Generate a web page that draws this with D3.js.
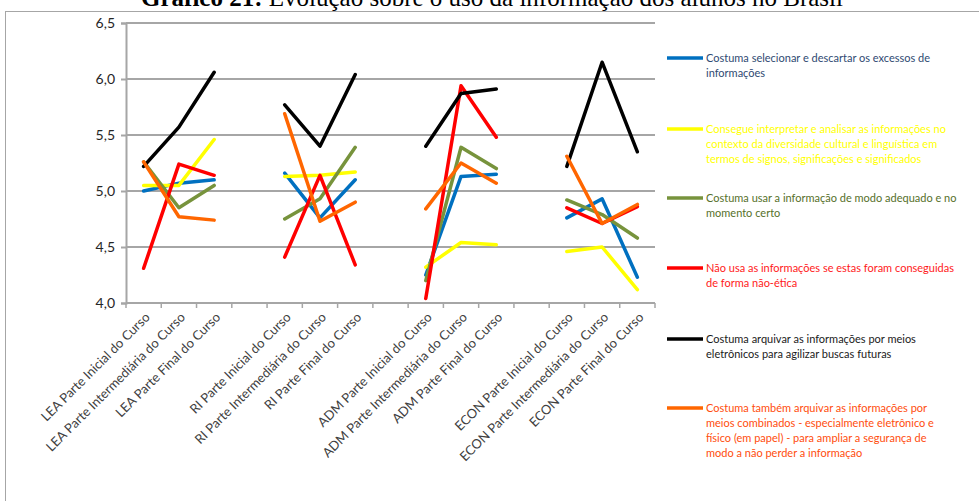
<!DOCTYPE html>
<html>
<head>
<meta charset="utf-8">
<script src="https://cdn.jsdelivr.net/npm/d3@7"></script>
<style>
  html, body { margin: 0; padding: 0; background: #fff; }
  svg { display: block; }
</style>
</head>
<body>
<svg id="chart" width="979" height="501"></svg>
<script>
// Category axis: four courses, three stages each, with an empty slot between courses
const categories = [
  "LEA Parte Inicial do Curso", "LEA Parte Intermediária do Curso", "LEA Parte Final do Curso", "",
  "RI Parte Inicial do Curso", "RI Parte Intermediária do Curso", "RI Parte Final do Curso", "",
  "ADM Parte Inicial do Curso", "ADM Parte Intermediária do Curso", "ADM Parte Final do Curso", "",
  "ECON Parte Inicial do Curso", "ECON Parte Intermediária do Curso", "ECON Parte Final do Curso"
];

const yTicks = [4.0, 4.5, 5.0, 5.5, 6.0, 6.5];

// Average scores per series (null = empty slot)
const selecionar = [5.00, 5.07, 5.10, null, 5.16, 4.76, 5.10, null, 4.25, 5.13, 5.15, null, 4.76, 4.93, 4.23];
const interpretar = [5.05, 5.05, 5.46, null, 5.13, 5.14, 5.17, null, 4.32, 4.54, 4.52, null, 4.46, 4.50, 4.12];
const usarAdequado = [5.26, 4.85, 5.05, null, 4.75, 4.93, 5.39, null, 4.20, 5.39, 5.20, null, 4.92, 4.79, 4.58];
const naoEtica = [4.31, 5.24, 5.14, null, 4.41, 5.14, 4.34, null, 4.04, 5.94, 5.48, null, 4.85, 4.71, 4.86];
const arquivarEletronico = [5.22, 5.57, 6.06, null, 5.77, 5.40, 6.04, null, 5.40, 5.87, 5.91, null, 5.22, 6.15, 5.35];
const arquivarCombinado = [5.26, 4.77, 4.74, null, 5.69, 4.73, 4.90, null, 4.84, 5.25, 5.07, null, 5.31, 4.71, 4.88];

const seriesNames = [
  ["Costuma selecionar e descartar os excessos de", "informações"],
  ["Consegue interpretar e analisar as informações no", "contexto da diversidade cultural e linguística em", "termos de signos, significações e significados"],
  ["Costuma usar a informação de modo adequado e no", "momento certo"],
  ["Não usa as informações se estas foram conseguidas", "de forma não-ética"],
  ["Costuma arquivar as informações por meios", "eletrônicos para agilizar buscas futuras"],
  ["Costuma também arquivar as informações por", "meios combinados - especialmente eletrônico e", "físico (em papel) - para ampliar a segurança de", "modo a não perder a informação"]
];
const seriesValues = [selecionar, interpretar, usarAdequado, naoEtica, arquivarEletronico, arquivarCombinado];
const lineColors = ["#0070c0", "#ffff00", "#77933c", "#ff0000", "#000000", "#ff6600"];
const textColors = ["#2f4a72", "#ffff00", "#56702a", "#ff1a1a", "#1a1a1a", "#ff4d0d"];

const svg = d3.select("#chart");

// Outer chart frame
svg.append("rect")
  .attr("x", 5.5).attr("y", 11.5)
  .attr("width", 990).attr("height", 510)
  .attr("fill", "none").attr("stroke", "#a6a6a6").attr("stroke-width", 1);

// Title (runs off the top edge of the page)
const title = svg.append("text")
  .attr("x", 492).attr("y", 6)
  .attr("text-anchor", "middle")
  .attr("font-family", "'Liberation Serif', 'DejaVu Serif', serif")
  .attr("font-size", 25)
  .attr("fill", "#000");
title.append("tspan").attr("font-weight", "bold").text("Gráfico 21:");
title.append("tspan").text(" Evolução sobre o uso da informação dos alunos no Brasil");

const plot = { left: 126, right: 655, top: 23, bottom: 303 };

const x = d3.scaleBand()
  .domain(d3.range(categories.length))
  .range([plot.left, plot.right])
  .padding(0);

const y = d3.scaleLinear()
  .domain([4.0, 6.5])
  .range([plot.bottom, plot.top]);

// Horizontal gridlines
svg.append("g")
  .selectAll("line")
  .data(yTicks.slice(1))
  .join("line")
  .attr("x1", plot.left).attr("x2", plot.right)
  .attr("y1", d => y(d)).attr("y2", d => y(d))
  .attr("stroke", "#a6a6a6").attr("stroke-width", 2);

// Y axis
const yAxis = svg.append("g")
  .attr("transform", `translate(${plot.left},0)`)
  .call(d3.axisLeft(y)
    .tickValues(yTicks)
    .tickSize(5)
    .tickFormat(d => d3.format(".1f")(d).replace(".", ",")));
yAxis.select(".domain").attr("stroke", "#a6a6a6").attr("stroke-width", 2);
yAxis.selectAll(".tick line").attr("stroke", "#a6a6a6").attr("stroke-width", 2);
yAxis.selectAll(".tick text")
  .attr("x", -11)
  .attr("font-family", "Lato, 'Open Sans', sans-serif")
  .attr("font-size", 14)
  .attr("fill", "#262626");

// X axis line and boundary ticks
svg.append("line")
  .attr("x1", plot.left).attr("x2", plot.right)
  .attr("y1", plot.bottom).attr("y2", plot.bottom)
  .attr("stroke", "#a6a6a6").attr("stroke-width", 2);

const boundaries = d3.range(categories.length).map(i => x(i)).concat([plot.right]);
svg.append("g")
  .selectAll("line")
  .data(boundaries)
  .join("line")
  .attr("x1", d => d).attr("x2", d => d)
  .attr("y1", plot.bottom).attr("y2", plot.bottom + 5)
  .attr("stroke", "#a6a6a6").attr("stroke-width", 1.5);

// Rotated category labels
svg.append("g")
  .selectAll("text")
  .data(categories.map((c, i) => ({ c, i })).filter(d => d.c !== ""))
  .join("text")
  .attr("transform", d => `translate(${x(d.i) + x.bandwidth() / 2 + 7},${plot.bottom + 15}) rotate(-45)`)
  .attr("text-anchor", "end")
  .attr("font-family", "Lato, 'Open Sans', sans-serif")
  .attr("font-size", 13)
  .attr("fill", "#404040")
  .text(d => d.c);

// Series lines
const line = d3.line()
  .defined(d => d.v !== null)
  .x(d => x(d.i) + x.bandwidth() / 2)
  .y(d => y(d.v));

svg.append("g")
  .selectAll("path")
  .data(seriesValues)
  .join("path")
  .attr("d", vals => line(vals.map((v, i) => ({ v, i }))))
  .attr("fill", "none")
  .attr("stroke", (d, i) => lineColors[i])
  .attr("stroke-width", 3.5)
  .attr("stroke-linejoin", "round")
  .attr("stroke-linecap", "round");

// Legend
const legendY = [58, 129, 198, 268, 339, 408];
const legend = svg.append("g");
seriesNames.forEach((lines, i) => {
  const g = legend.append("g").attr("transform", `translate(667,${legendY[i]})`);
  g.append("line")
    .attr("x1", 0).attr("x2", 36)
    .attr("y1", 0).attr("y2", 0)
    .attr("stroke", lineColors[i]).attr("stroke-width", 3.5);
  const t = g.append("text")
    .attr("font-family", "Lato, 'Open Sans', sans-serif")
    .attr("font-size", 11)
    .attr("fill", textColors[i]);
  lines.forEach((s, k) => {
    t.append("tspan").attr("x", 39).attr("y", 4 + k * 15).text(s);
  });
});
</script>
</body>
</html>
